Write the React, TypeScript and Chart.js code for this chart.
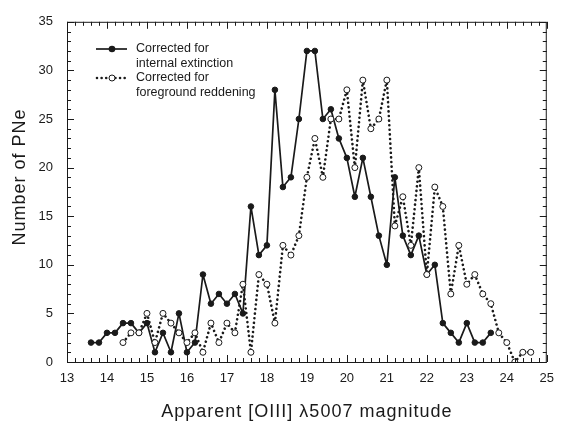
import React, { useEffect, useRef } from "react";
import { Chart, registerables } from "chart.js";

Chart.register(...registerables);

// PN counts per 0.2 mag bin, corrected for internal extinction
const internalMag = [
  13.6, 13.8, 14.0, 14.2, 14.4, 14.6, 14.8, 15.0, 15.2, 15.4, 15.6, 15.8, 16.0, 16.2,
  16.4, 16.6, 16.8, 17.0, 17.2, 17.4, 17.6, 17.8, 18.0, 18.2, 18.4, 18.6, 18.8, 19.0,
  19.2, 19.4, 19.6, 19.8, 20.0, 20.2, 20.4, 20.6, 20.8, 21.0, 21.2, 21.4, 21.6, 21.8,
  22.0, 22.2, 22.4, 22.6, 22.8, 23.0, 23.2, 23.4, 23.6,
];
const internalCount = [
  2, 2, 3, 3, 4, 4, 3, 4, 1, 3, 1, 5, 1, 2,
  9, 6, 7, 6, 7, 5, 16, 11, 12, 28, 18, 19, 25, 32,
  32, 25, 26, 23, 21, 17, 21, 17, 13, 10, 19, 13, 11, 13,
  9, 10, 4, 3, 2, 4, 2, 2, 3,
];

// PN counts per 0.2 mag bin, corrected for foreground reddening only
const foregroundMag = [
  14.4, 14.6, 14.8, 15.0, 15.2, 15.4, 15.6, 15.8, 16.0, 16.2, 16.4, 16.6, 16.8, 17.0,
  17.2, 17.4, 17.6, 17.8, 18.0, 18.2, 18.4, 18.6, 18.8, 19.0, 19.2, 19.4, 19.6, 19.8,
  20.0, 20.2, 20.4, 20.6, 20.8, 21.0, 21.2, 21.4, 21.6, 21.8, 22.0, 22.2, 22.4, 22.6,
  22.8, 23.0, 23.2, 23.4, 23.6, 23.8, 24.0, 24.2, 24.4, 24.6,
];
const foregroundCount = [
  2, 3, 3, 5, 2, 5, 4, 3, 2, 3, 1, 4, 2, 4,
  3, 8, 1, 9, 8, 4, 12, 11, 13, 19, 23, 19, 25, 25,
  28, 20, 29, 24, 25, 29, 14, 17, 12, 20, 9, 18, 16, 7,
  12, 8, 9, 7, 6, 3, 2, 0, 1, 1,
];

const xMin = 13;
const xMax = 25;
const yMin = 0;
const yMax = 35;
const xTickLabels = ["13", "14", "15", "16", "17", "18", "19", "20", "21", "22", "23", "24", "25"];
const yTickLabels = ["0", "5", "10", "15", "20", "25", "30", "35"];

const legendLabels = [
  ["Corrected for", "internal extinction"],
  ["Corrected for", "foreground reddening"],
];
const xTitle = "Apparent [OIII] \u03bb5007 magnitude";
const yTitle = "Number of PNe";

const FONT = "'Liberation Sans', Arial, Helvetica, sans-serif";
const INK = "#1a1a1a";
// round-capped near-zero dashes give a row of separate dots
const DOT_DASH = [0.01, 4.6];
const DOT_WIDTH = 2.6;

// Frame with inward major/minor ticks on all four sides, axis titles and legend
const framePlugin = {
  id: "frameAndLegend",
  afterDraw(chart: any) {
    const { ctx, chartArea } = chart;
    const { left, right, top, bottom } = chartArea;
    const xs = chart.scales.x;
    const ys = chart.scales.y;
    ctx.save();
    ctx.strokeStyle = INK;
    ctx.lineWidth = 1;
    ctx.strokeRect(left + 0.5, top + 0.5, right - left - 1, bottom - top);

    const major = 7;
    const minor = 4;
    ctx.beginPath();
    for (let i = 0; i <= (xMax - xMin) * 5; i++) {
      const v = xMin + i * 0.2;
      const px = Math.round(xs.getPixelForValue(v)) + 0.5;
      const len = i % 5 === 0 ? major : minor;
      ctx.moveTo(px, bottom);
      ctx.lineTo(px, bottom - len);
      ctx.moveTo(px, top);
      ctx.lineTo(px, top + len);
    }
    for (let v = yMin; v <= yMax; v++) {
      const py = Math.round(ys.getPixelForValue(v)) + 0.5;
      const len = v % 5 === 0 ? major : minor;
      ctx.moveTo(left, py);
      ctx.lineTo(left + len, py);
      ctx.moveTo(right, py);
      ctx.lineTo(right - len, py);
    }
    ctx.stroke();

    // axis titles
    ctx.fillStyle = INK;
    ctx.font = `18px ${FONT}`;
    ctx.textAlign = "center";
    ctx.textBaseline = "middle";
    (ctx as any).letterSpacing = "1px";
    ctx.fillText(xTitle, (left + right) / 2, 412);
    ctx.save();
    ctx.translate(20, 177);
    ctx.rotate(-Math.PI / 2);
    ctx.fillText(yTitle, 0, 0);
    ctx.restore();
    (ctx as any).letterSpacing = "0px";

    // legend
    const lx0 = 96;
    const lx1 = 127;
    const mx = 112;
    const textX = 136;
    const rows = [49, 78];
    ctx.font = `12.5px ${FONT}`;
    ctx.textAlign = "left";
    ctx.textBaseline = "middle";

    ctx.beginPath();
    ctx.lineWidth = 1.7;
    ctx.moveTo(lx0, rows[0]);
    ctx.lineTo(lx1, rows[0]);
    ctx.stroke();
    ctx.beginPath();
    ctx.arc(mx, rows[0], 3.3, 0, Math.PI * 2);
    ctx.fillStyle = INK;
    ctx.fill();

    ctx.beginPath();
    ctx.setLineDash(DOT_DASH);
    ctx.lineCap = "round";
    ctx.lineWidth = DOT_WIDTH;
    ctx.moveTo(lx0 + 1, rows[1]);
    ctx.lineTo(lx1, rows[1]);
    ctx.stroke();
    ctx.setLineDash([]);
    ctx.lineCap = "butt";
    ctx.beginPath();
    ctx.arc(mx, rows[1], 3, 0, Math.PI * 2);
    ctx.fillStyle = "#ffffff";
    ctx.fill();
    ctx.lineWidth = 1;
    ctx.stroke();

    ctx.fillStyle = INK;
    ctx.fillText(legendLabels[0][0], textX, rows[0]);
    ctx.fillText(legendLabels[0][1], textX, rows[0] + 14.5);
    ctx.fillText(legendLabels[1][0], textX, rows[1]);
    ctx.fillText(legendLabels[1][1], textX, rows[1] + 14.5);
    ctx.restore();
  },
};

export default function App() {
  const canvasRef = useRef<HTMLCanvasElement | null>(null);

  useEffect(() => {
    document.body.style.margin = "0";
    const canvas = canvasRef.current;
    if (!canvas) return;

    const foreground = foregroundMag.map((x, i) => ({ x, y: foregroundCount[i] }));
    const internal = internalMag.map((x, i) => ({ x, y: internalCount[i] }));

    const chart = new Chart(canvas, {
      type: "line",
      data: {
        datasets: [
          {
            label: "Corrected for foreground reddening",
            data: foreground,
            borderColor: INK,
            borderWidth: DOT_WIDTH,
            borderDash: DOT_DASH,
            borderCapStyle: "round",
            borderJoinStyle: "round",
            pointRadius: 3,
            pointBorderWidth: 1,
            pointBackgroundColor: "#ffffff",
            pointBorderColor: INK,
            tension: 0,
            fill: false,
          },
          {
            label: "Corrected for internal extinction",
            data: internal,
            borderColor: INK,
            borderWidth: 1.7,
            borderJoinStyle: "round",
            pointRadius: 2.8,
            pointBorderWidth: 1,
            pointBackgroundColor: INK,
            pointBorderColor: INK,
            tension: 0,
            fill: false,
          },
        ],
      },
      options: {
        responsive: false,
        animation: false,
        devicePixelRatio: 1,
        layout: { padding: { top: 13, right: 8, left: 0, bottom: 0 } },
        plugins: {
          legend: { display: false },
          tooltip: { enabled: false },
        },
        scales: {
          x: {
            type: "linear",
            min: xMin,
            max: xMax,
            grid: { display: false, drawTicks: false },
            border: { display: false },
            afterFit: (scale: any) => {
              scale.height = 64;
            },
            afterBuildTicks: (scale: any) => {
              scale.ticks = xTickLabels.map((t) => ({ value: Number(t) }));
            },
            ticks: {
              padding: 9,
              maxRotation: 0,
              autoSkip: false,
              color: INK,
              font: { family: FONT, size: 13 },
              callback: (v: any) => String(v),
            },
          },
          y: {
            type: "linear",
            min: yMin,
            max: yMax,
            grid: { display: false, drawTicks: false },
            border: { display: false },
            afterFit: (scale: any) => {
              scale.width = 67;
            },
            afterBuildTicks: (scale: any) => {
              scale.ticks = yTickLabels.map((t) => ({ value: Number(t) }));
            },
            ticks: {
              padding: 14,
              color: INK,
              font: { family: FONT, size: 13 },
              callback: (v: any) => String(v),
            },
          },
        },
      },
      plugins: [framePlugin],
    });

    return () => chart.destroy();
  }, []);

  return (
    <div style={{ width: 563, height: 426, overflow: "hidden", background: "#fff" }}>
      <canvas ref={canvasRef} width={563} height={426} />
    </div>
  );
}
